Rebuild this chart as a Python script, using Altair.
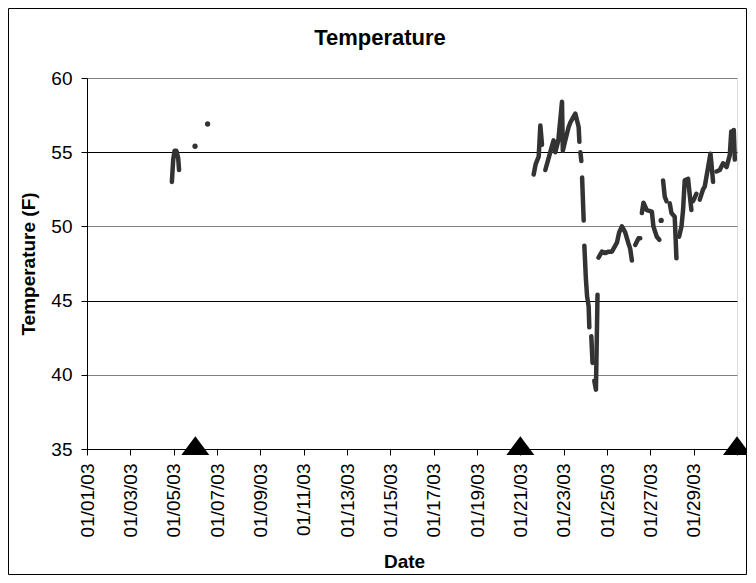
import altair as alt
import pandas as pd

# ---- data ----
SEG_A_T = ["2003-01-04T22:00", "2003-01-04T23:30", "2003-01-05T01:00", "2003-01-05T03:00", "2003-01-05T05:00", "2003-01-05T06:00"]
SEG_A_V = [53.0, 54.5, 55.1, 55.1, 54.6, 53.8]

MAIN_T = [
    # M1
    "2003-01-21T14:45", "2003-01-21T17:00", "2003-01-21T20:20", "2003-01-21T22:10", "2003-01-22T00:00",
    # M2
    "2003-01-22T03:40", "2003-01-22T07:20", "2003-01-22T09:10", "2003-01-22T12:50", "2003-01-22T14:45",
    "2003-01-22T18:05", "2003-01-22T22:10", "2003-01-22T23:05", "2003-01-23T01:50", "2003-01-23T05:30",
    "2003-01-23T07:25", "2003-01-23T11:00", "2003-01-23T12:55", "2003-01-23T16:35", "2003-01-23T17:25",
    # M3
    "2003-01-23T18:30", "2003-01-23T19:35",
    # M4
    "2003-01-23T20:25", "2003-01-23T22:10",
    # M5
    "2003-01-23T22:55", "2003-01-24T00:35", "2003-01-24T01:55", "2003-01-24T03:40", "2003-01-24T04:25",
    # M6
    "2003-01-24T06:35", "2003-01-24T08:00",
    # M7
    "2003-01-24T09:55", "2003-01-24T11:45", "2003-01-24T13:30",
    # M8
    "2003-01-24T14:35", "2003-01-24T18:25", "2003-01-24T22:00", "2003-01-25T01:40", "2003-01-25T05:25",
    "2003-01-25T11:00", "2003-01-25T13:30", "2003-01-25T16:30", "2003-01-25T20:10", "2003-01-25T23:30",
    "2003-01-26T01:40", "2003-01-26T03:35",
    # M9
    "2003-01-26T07:15", "2003-01-26T10:55", "2003-01-26T12:50",
    # M10
    "2003-01-26T14:35", "2003-01-26T16:25", "2003-01-26T20:05", "2003-01-27T01:40", "2003-01-27T03:25",
    "2003-01-27T07:10", "2003-01-27T10:00",
    # M11
    "2003-01-27T14:05", "2003-01-27T16:00", "2003-01-27T17:55",
    # M12
    "2003-01-27T21:30", "2003-01-27T23:25", "2003-01-28T03:00", "2003-01-28T04:55",
    # M13
    "2003-01-28T07:50", "2003-01-28T10:30", "2003-01-28T12:15", "2003-01-28T14:05", "2003-01-28T17:50",
    "2003-01-28T19:40", "2003-01-28T21:30",
    # M14
    "2003-01-28T23:20", "2003-01-29T03:05",
    # M15
    "2003-01-29T06:45", "2003-01-29T10:25", "2003-01-29T12:20", "2003-01-29T16:00", "2003-01-29T18:35",
    "2003-01-29T19:40", "2003-01-29T21:30",
    # M16
    "2003-01-30T01:10", "2003-01-30T04:55", "2003-01-30T08:35", "2003-01-30T12:25", "2003-01-30T16:00",
    "2003-01-30T17:40", "2003-01-30T19:35", "2003-01-30T20:25", "2003-01-30T21:35",
]
MAIN_V = [
    53.5, 54.2, 54.7, 56.8, 55.5,
    53.8, 54.6, 55.0, 55.8, 55.0, 55.8, 58.4, 55.1, 55.8, 56.7, 57.0, 57.4, 57.6, 56.7, 55.7,
    55.0, 54.4,
    53.3, 50.4,
    48.7, 46.5, 45.3, 44.6, 43.2,
    42.6, 40.8,
    39.6, 39.0, 45.4,
    47.9, 48.3, 48.2, 48.3, 48.3, 48.9, 49.6, 50.0, 49.6, 48.9, 48.5, 47.7,
    48.75, 49.2, 49.2,
    50.9, 51.6, 51.1, 51.0, 50.0, 49.3, 49.1,
    53.1, 52.0, 51.7,
    51.55, 50.9, 50.65, 47.85,
    49.3, 50.0, 51.1, 53.1, 53.2, 52.1, 51.1,
    51.7, 52.2,
    51.8, 52.5, 52.7, 54.0, 54.9, 54.25, 53.0,
    53.7, 53.8, 54.25, 54.0, 54.8, 56.4, 55.1, 56.5, 54.5,
]
MAIN_SEG = ([1] * 5 + [2] * 15 + [3] * 2 + [4] * 2 + [5] * 5 + [6] * 2 + [7] * 3 + [8] * 12 +
            [9] * 3 + [10] * 7 + [11] * 3 + [12] * 4 + [13] * 7 + [14] * 2 + [15] * 7 + [16] * 9)

POINT_T = ["2003-01-05T23:40", "2003-01-06T13:35", "2003-01-27T12:00"]
POINT_V = [55.4, 56.9, 50.4]

MARKER_T = ["2003-01-06T00:00", "2003-01-21T00:00", "2003-01-31T00:00"]
MARKER_V = [35, 35, 35]

Y_TICKS = [35, 40, 45, 50, 55, 60]
X_DAYS = list(range(1, 32))

TITLE = "Temperature"
FONT = "Liberation Sans"

line_df = pd.DataFrame({
    "t": SEG_A_T + MAIN_T,
    "v": SEG_A_V + MAIN_V,
    "seg": [0] * len(SEG_A_T) + MAIN_SEG,
})
pt_df = pd.DataFrame({"t": POINT_T, "v": POINT_V})
mk_df = pd.DataFrame({"t": MARKER_T, "v": MARKER_V})

x_scale = alt.Scale(domain=[alt.DateTime(year=2003, month=1, date=1),
                            alt.DateTime(year=2003, month=1, date=31)], nice=False)
y_scale = alt.Scale(domain=[35, 60], nice=False, zero=False)

x_axis = alt.Axis(
    title="Date",
    values=[alt.DateTime(year=2003, month=1, date=d) for d in X_DAYS],
    labelExpr="(date(datum.value) % 2 == 1 && date(datum.value) < 31) ? timeFormat(datum.value, '%m/%d/%y') : ''",
    labelAngle=-90, labelAlign="right", labelBaseline="middle",
    labelOverlap=False, labelFlush=False, labelBound=False,
    labelFont=FONT, labelFontSize=19, labelColor="black", labelPadding=8,
    tickSize=6, tickColor="black", domainColor="black", grid=False,
    titleFont=FONT, titleFontSize=19, titleFontWeight="bold", titleColor="black",
    titlePadding=16, titleX=317,
)
y_axis = alt.Axis(
    title="Temperature (F)",
    values=Y_TICKS,
    labelFont=FONT, labelFontSize=19, labelColor="black", labelPadding=9,
    tickSize=6, tickColor="black", domainColor="black",
    grid=True,
    gridColor={"condition": {"test": "datum.value % 10 == 5", "value": "black"}, "value": "#808080"},
    titleFont=FONT, titleFontSize=19, titleFontWeight="bold", titleColor="black",
    titlePadding=12,
)

lines = alt.Chart(line_df).mark_line(
    color="#333333", strokeWidth=4.5, strokeCap="round", strokeJoin="round"
).encode(
    x=alt.X("t:T", scale=x_scale, axis=x_axis),
    y=alt.Y("v:Q", scale=y_scale, axis=y_axis),
    detail="seg:N",
)

points = alt.Chart(pt_df).mark_circle(color="#333333", size=28, opacity=1).encode(
    x=alt.X("t:T", scale=x_scale),
    y=alt.Y("v:Q", scale=y_scale),
)

markers = alt.Chart(mk_df).mark_point(
    shape="M-1,0.67L1,0.67L0,-0.67Z", size=576, filled=True, fill="black",
    stroke="black", opacity=1, yOffset=-3
).encode(
    x=alt.X("t:T", scale=x_scale),
    y=alt.Y("v:Q", scale=y_scale),
)

one_row = pd.DataFrame({"label": [TITLE]})

border = alt.Chart(one_row).mark_rect(
    fill=None, stroke="black", strokeWidth=1
).encode(
    x=alt.value(-78.5), x2=alt.value(659.5), y=alt.value(-69.5), y2=alt.value(496.5)
)

title_text = alt.Chart(one_row).mark_text(
    font=FONT, fontSize=22, fontWeight="bold", color="black",
    align="center", baseline="middle"
).encode(
    x=alt.value(293), y=alt.value(-40), text="label:N"
)

chart = alt.layer(lines, points, markers, border, title_text).properties(
    width=650, height=371,
    padding={"left": 79, "top": 70, "right": 10, "bottom": 126},
    autosize=alt.AutoSizeParams(type="none"),
).configure_view(stroke="#808080", strokeWidth=1).configure(background="white")

chart.save("out.html", embed_options={"renderer": "svg", "actions": False})
